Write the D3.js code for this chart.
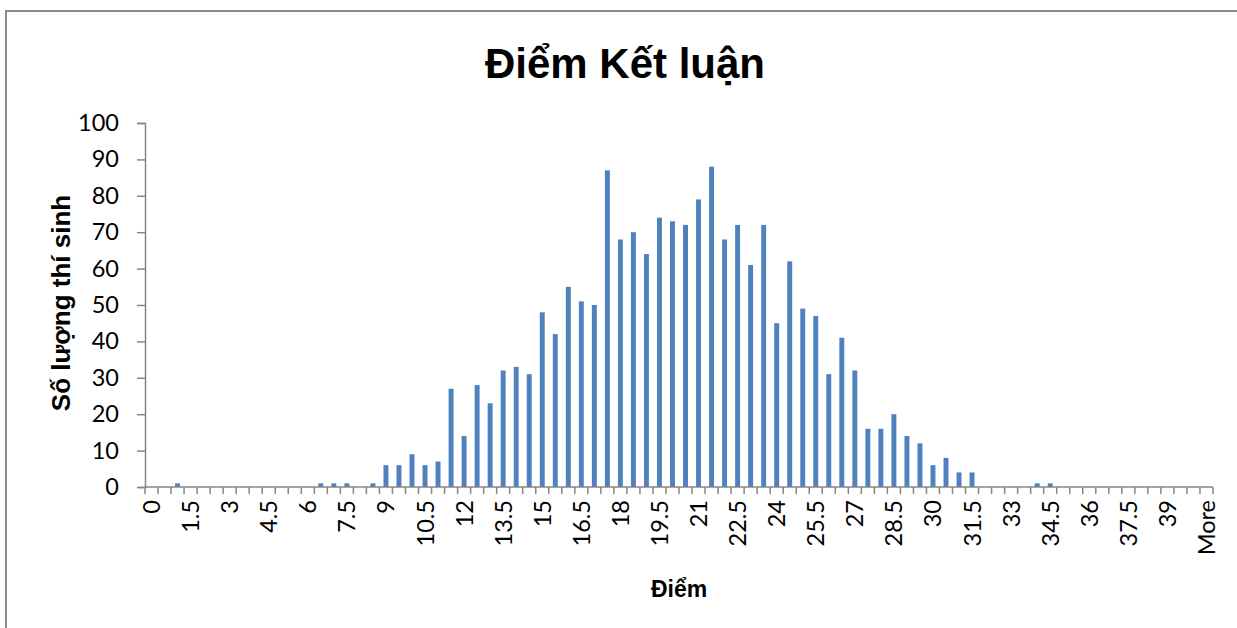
<!DOCTYPE html>
<meta charset="utf-8">
<head>
    <title>Điểm Kết luận</title>
</head>
<style>
    body { margin: 0; background: #fff; }
    svg text { fill: #000; }
</style>
<div id="chart"></div>
<script src="https://d3js.org/d3.v7.min.js"></script>
<script>

    // bins of the histogram (Excel style, last one is "More")
    var categories = ["0", "0.5", "1", "1.5", "2", "2.5", "3", "3.5", "4", "4.5",
        "5", "5.5", "6", "6.5", "7", "7.5", "8", "8.5", "9", "9.5",
        "10", "10.5", "11", "11.5", "12", "12.5", "13", "13.5", "14", "14.5",
        "15", "15.5", "16", "16.5", "17", "17.5", "18", "18.5", "19", "19.5",
        "20", "20.5", "21", "21.5", "22", "22.5", "23", "23.5", "24", "24.5",
        "25", "25.5", "26", "26.5", "27", "27.5", "28", "28.5", "29", "29.5",
        "30", "30.5", "31", "31.5", "32", "32.5", "33", "33.5", "34", "34.5",
        "35", "35.5", "36", "36.5", "37", "37.5", "38", "38.5", "39", "39.5",
        "40", "More"];

    var counts = [0, 0, 1, 0, 0, 0, 0, 0, 0, 0,
        0, 0, 0, 1, 1, 1, 0, 1, 6, 6,
        9, 6, 7, 27, 14, 28, 23, 32, 33, 31,
        48, 42, 55, 51, 50, 87, 68, 70, 64, 74,
        73, 72, 79, 88, 68, 72, 61, 72, 45, 62,
        49, 47, 31, 41, 32, 16, 16, 20, 14, 12,
        6, 8, 4, 4, 0, 0, 0, 0, 1, 1,
        0, 0, 0, 0, 0, 0, 0, 0, 0, 0,
        0, 0];

    var yTicks = [0, 10, 20, 30, 40, 50, 60, 70, 80, 90, 100];

    var W = 1237, H = 628;
    var margin = {top: 123, right: 24, bottom: 141, left: 145};
    var width = W - margin.left - margin.right,
        height = H - margin.top - margin.bottom;

    var axisColor = "#868686";
    var barColor = "#4f81bd";
    var tickFont = "Lato, 'Open Sans', sans-serif";
    var tickSize = "23.5px";
    var titleFont = "'Liberation Sans', Arial, sans-serif";

    var svg = d3.select("#chart")
      .append("svg")
        .attr("width", W)
        .attr("height", H);

    // chart border (runs off the right and bottom edge in the reference)
    svg.append("rect")
        .attr("x", 6)
        .attr("y", 11)
        .attr("width", W + 20)
        .attr("height", H + 20)
        .attr("fill", "none")
        .attr("stroke", "#8c8c8c")
        .attr("stroke-width", 2);

    var g = svg.append("g")
        .attr("transform", "translate(" + margin.left + "," + margin.top + ")");

    var x = d3.scaleBand()
        .domain(categories)
        .range([0, width])
        .paddingInner(0.62)
        .paddingOuter(0.31);

    var y = d3.scaleLinear()
        .domain([0, 100])
        .range([height, 0]);

    // bars
    g.selectAll(".bar")
        .data(counts)
        .enter().append("rect")
        .attr("class", "bar")
        .attr("x", function(d, i) { return x(categories[i]); })
        .attr("width", x.bandwidth())
        .attr("y", function(d) { return y(d); })
        .attr("height", function(d) { return height - y(d); })
        .attr("fill", barColor);

    // y axis
    var yAxis = g.append("g")
        .call(d3.axisLeft(y).tickValues(yTicks).tickSize(8).tickPadding(18));
    yAxis.selectAll("line, path").attr("stroke", axisColor).attr("stroke-width", 1.5);
    yAxis.selectAll("text")
        .style("font-family", tickFont)
        .style("font-size", tickSize);

    // x axis: ticks on band boundaries, labels on every third bin
    var xAxis = g.append("g")
        .attr("transform", "translate(0," + height + ")");
    xAxis.append("line")
        .attr("x1", 0).attr("x2", width)
        .attr("y1", 0).attr("y2", 0)
        .attr("stroke", axisColor)
        .attr("stroke-width", 1.5);
    var step = x.step();
    var bounds = d3.range(categories.length + 1);
    xAxis.selectAll(".xtick")
        .data(bounds)
        .enter().append("line")
        .attr("class", "xtick")
        .attr("x1", function(i) { return i * step; })
        .attr("x2", function(i) { return i * step; })
        .attr("y1", 0)
        .attr("y2", 7)
        .attr("stroke", axisColor)
        .attr("stroke-width", 1.5);

    xAxis.selectAll(".xlabel")
        .data(categories.filter(function(c, i) { return i % 3 === 0; }))
        .enter().append("text")
        .attr("class", "xlabel")
        .attr("transform", function(c) {
            return "translate(" + (x(c) + x.bandwidth() / 2 + 8.5) + ",13) rotate(-90)";
        })
        .attr("text-anchor", "end")
        .style("font-family", tickFont)
        .style("font-size", tickSize)
        .text(function(c) { return c; });

    // titles
    svg.append("text")
        .attr("x", 625)
        .attr("y", 78)
        .attr("text-anchor", "middle")
        .style("font-family", titleFont)
        .style("font-weight", "bold")
        .style("font-size", "42px")
        .text("Điểm Kết luận");

    svg.append("text")
        .attr("transform", "translate(70,303) rotate(-90)")
        .attr("text-anchor", "middle")
        .style("font-family", titleFont)
        .style("font-weight", "bold")
        .style("font-size", "26px")
        .text("Số lượng thí sinh");

    svg.append("text")
        .attr("x", 679)
        .attr("y", 597)
        .attr("text-anchor", "middle")
        .style("font-family", titleFont)
        .style("font-weight", "bold")
        .style("font-size", "23px")
        .text("Điểm");

</script>
